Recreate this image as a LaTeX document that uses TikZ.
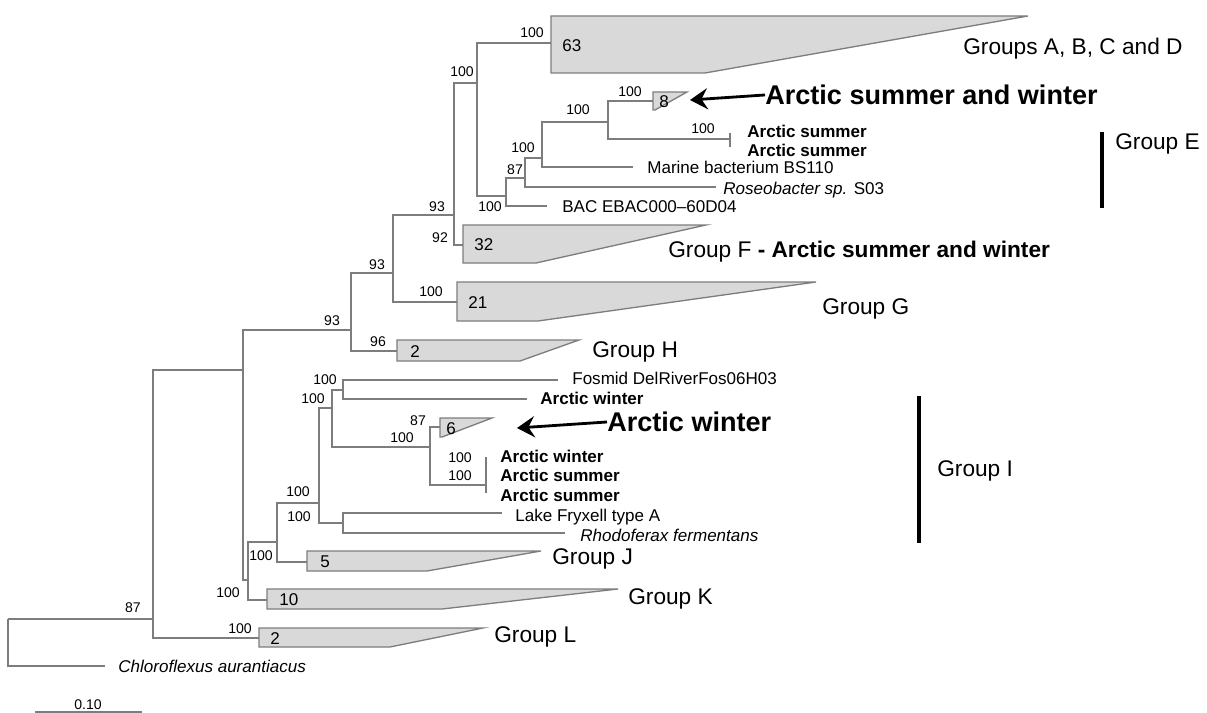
\documentclass[tikz,border=0pt]{standalone}
\usepackage{fontspec}
\setmainfont{Liberation Sans}
\usetikzlibrary{arrows.meta}
\definecolor{treegray}{RGB}{125,125,125}
\definecolor{cladegray}{RGB}{217,217,217}

\begin{document}
\begin{tikzpicture}[x=0.02cm, y=-0.02cm,
  br/.style={draw=treegray, line width=0.75pt},
  clade/.style={draw=treegray, fill=cladegray, line width=0.75pt},
  bs/.style={inner sep=0pt, font=\fontsize{8}{9}\selectfont},
  num/.style={anchor=mid west, inner sep=0pt, font=\fontsize{9.7}{11}\selectfont},
  leaf/.style={anchor=mid west, inner sep=0pt, font=\fontsize{9.7}{11}\selectfont},
  grp/.style={anchor=mid west, inner sep=0pt, font=\fontsize{12.9}{15}\selectfont},
  big/.style={anchor=mid west, inner sep=0pt, font=\fontsize{15.4}{18}\selectfont\bfseries},
  bar/.style={line width=2.8pt},
  arr/.style={line width=1.6pt, -{Stealth[length=10pt, width=12pt, inset=3.5pt]}}]
\useasboundingbox (0,0) rectangle (1207,713);

% internal nodes and leaf ends (x, y of the incoming branch)
\coordinate (r) at (8,619);
\coordinate (chl) at (105,666);
\coordinate (n153) at (153,619);
\coordinate (n243) at (243,370);
\coordinate (n351) at (351,330);
\coordinate (n393) at (393,273);
\coordinate (n454) at (454,215);
\coordinate (n477) at (477,83);
\coordinate (n506) at (506,196);
\coordinate (n525) at (525,178);
\coordinate (n542) at (542,158);
\coordinate (n608) at (608,122);
\coordinate (ce) at (730,139);
\coordinate (ce1) at (730,133);
\coordinate (ce2) at (730,147);
\coordinate (marine) at (633,167);
\coordinate (roseo) at (716,187);
\coordinate (bac) at (547,206);
\coordinate (cAD) at (551,43);
\coordinate (c8) at (653,101);
\coordinate (cF) at (463,245);
\coordinate (cG) at (457,302);
\coordinate (cH) at (397,351);
\coordinate (cL) at (259,638);
\coordinate (n248) at (248,580);
\coordinate (cK) at (267,600);
\coordinate (n277) at (277,542);
\coordinate (cJ) at (307,562);
\coordinate (n319) at (319,503);
\coordinate (n343b) at (343,523);
\coordinate (lake) at (502,513);
\coordinate (rhodo) at (565,533);
\coordinate (n332) at (332,408);
\coordinate (n343a) at (343,390);
\coordinate (fosmid) at (558,380);
\coordinate (awi) at (527,399);
\coordinate (n430) at (430,447);
\coordinate (c6) at (440,427);
\coordinate (ci) at (486,485);
\coordinate (ci1) at (486,457);
\coordinate (ci2) at (486,493);

% branches
\foreach \p/\c in {r/n153, r/chl, n153/n243, n153/cL, n243/n351, n243/n248,
    n351/n393, n351/cH, n393/n454, n393/cG, n454/n477, n454/cF, n477/cAD,
    n477/n506, n506/n525, n506/bac, n525/n542, n525/roseo, n542/n608,
    n542/marine, n608/c8, n608/ce, ce/ce1, ce/ce2, n248/n277, n248/cK,
    n277/n319, n277/cJ, n319/n332, n319/n343b, n343b/lake, n343b/rhodo,
    n332/n343a, n332/n430, n343a/fosmid, n343a/awi, n430/c6, n430/ci,
    ci/ci1, ci/ci2}
  \draw[br] (\p) |- (\c);

% collapsed clades: left/top/bottom/corner/tip/size/offset/name
\foreach \l/\t/\b/\c/\p/\n/\o/\k in {551/16/73/705/1028/63/11/AD,
    653/92/110/655/687/8/6/E, 463/225/263/536/706/32/11/F,
    457/282/321/538/816/21/11/G, 397/340/361/520/579/2/13/H,
    440/418/437/442/492/6/6/I, 307/551/571/427/541/5/13/J,
    267/589/609/442/618/10/12/K, 259/628/647/390/483/2/11/L}
{
  \draw[clade] (\l,\t) -- (\p,\t) -- (\c,\b) -- (\l,\b) -- cycle;
  \node[num] (size\k) at (\l+\o,{(\t+\b)/2+2}) {\n};
}

% bootstrap values
\foreach [count=\i] \x/\y/\v in {133/608/87, 240/629/100, 332/321/93,
    377/265/93, 378/342/96, 437/207/93, 431/292/100, 462/72/100,
    440/238/92, 532/33/100, 490/207/100, 515/170/87, 523/148/100,
    578/110/100, 630/92/100, 703/129/100, 228/593/100, 261/556/100,
    298/492/100, 299/517/100, 325/380/100, 313/399/100, 402/438/100,
    418/421/87, 460/458/100, 460/476/100}
  \node[bs] (bs\i) at (\x,\y) {\v};

% leaves
\node[leaf] (tchl) at (118,668) {\textit{Chloroflexus aurantiacus}};
\node[leaf] (tbac) at (562,208) {BAC EBAC000–60D04};
\node[leaf] (troseo) at (723,190) {\textit{Roseobacter sp.} S03};
\node[leaf] (tmarine) at (647,169) {Marine bacterium BS110};
\node[leaf] (tce1) at (747,133) {\textbf{Arctic summer}};
\node[leaf] (tce2) at (747,152) {\textbf{Arctic summer}};
\node[leaf] (tfosmid) at (572,380) {Fosmid DelRiverFos06H03};
\node[leaf] (tawi) at (540,400) {\textbf{Arctic winter}};
\node[leaf] (tci1) at (500,458) {\textbf{Arctic winter}};
\node[leaf] (tci2) at (500,477) {\textbf{Arctic summer}};
\node[leaf] (tci3) at (500,497) {\textbf{Arctic summer}};
\node[leaf] (tlake) at (515,517) {Lake Fryxell type A};
\node[leaf] (trhodo) at (580,537) {\textit{Rhodoferax fermentans}};

% group names
\node[grp] (gAD) at (963,50) {Groups A, B, C and D};
\node[grp] (gE) at (1115,145) {Group E};
\node[grp] (gF) at (668,253) {Group F \textbf{- Arctic summer and winter}};
\node[grp] (gG) at (822,310) {Group G};
\node[grp] (gH) at (592,353) {Group H};
\node[grp] (gI) at (937,472) {Group I};
\node[grp] (gJ) at (552,560) {Group J};
\node[grp] (gK) at (628,600) {Group K};
\node[grp] (gL) at (494,638) {Group L};
\draw[bar] (1102,132) -- (1102,208);
\draw[bar] (919,396) -- (919,543);

% highlighted clades
\coordinate (tip8) at (690,100);
\coordinate (tip6) at (517,428);
\node[big] (hiE) at (765,100) {Arctic summer and winter};
\node[big] (hiI) at (607,427) {Arctic winter};
\draw[arr] (hiE.west) -- (tip8);
\draw[arr] (hiI.west) -- (tip6);

% scale bar
\node[bs] (scl) at (88,705) {0.10};
\draw[br] (35,712) -- (142,712);
\end{tikzpicture}
\end{document}
